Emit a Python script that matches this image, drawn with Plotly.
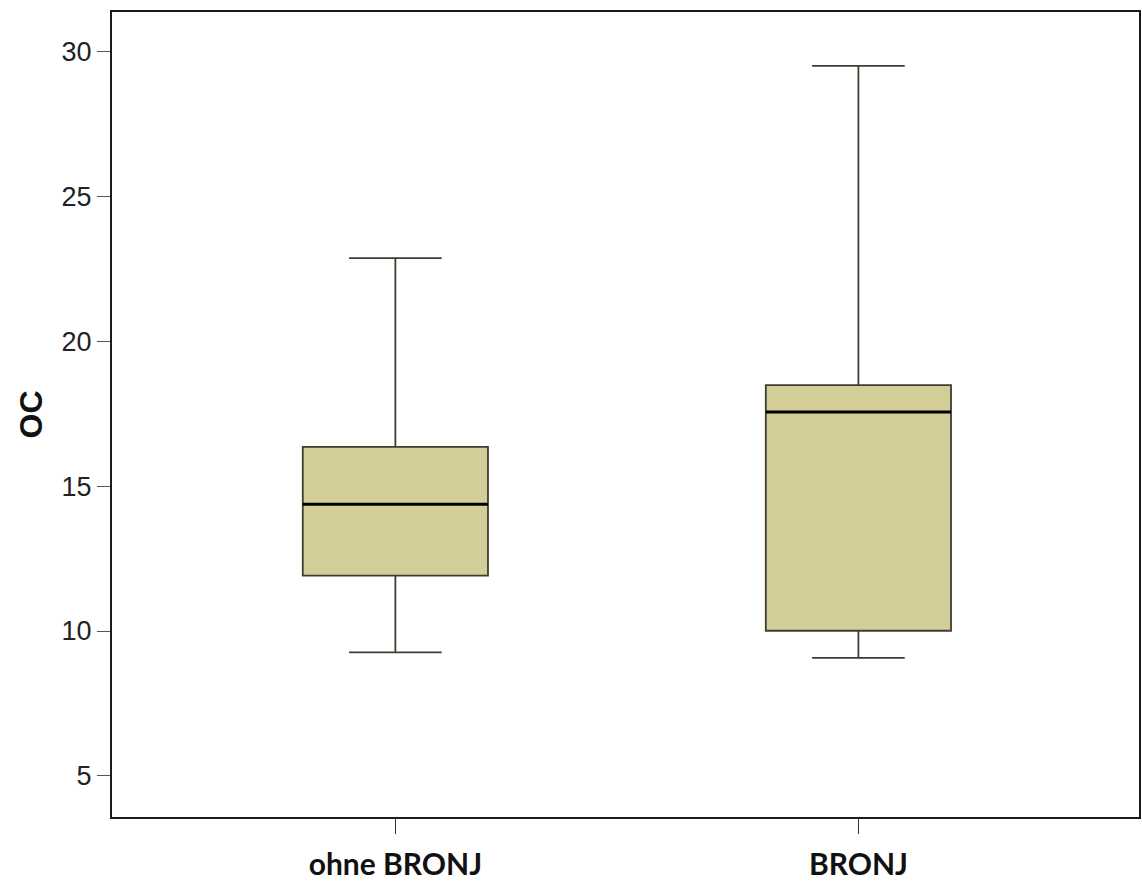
import plotly.graph_objects as go

# Osteocalcin (OC) summary statistics per group
groups = ["ohne BRONJ", "BRONJ"]
lower_whisker = [9.26, 9.07]
q1_values = [11.91, 10.01]
median_values = [14.38, 17.56]
q3_values = [16.36, 18.49]
upper_whisker = [22.87, 29.51]

y_ticks = [5, 10, 15, 20, 25, 30]

box_fill = "#D3CE98"
box_line = "#3f3c32"
box_width = 0.4

fig = go.Figure()
fig.add_trace(go.Box(
    x=groups,
    q1=q1_values,
    median=median_values,
    q3=q3_values,
    lowerfence=lower_whisker,
    upperfence=upper_whisker,
    width=box_width,
    whiskerwidth=0.5,
    fillcolor=box_fill,
    line=dict(color=box_line, width=1.8),
    boxpoints=False,
    showlegend=False,
    hoverinfo="skip",
))

# Heavier black median bars drawn over each box
for i, med in enumerate(median_values):
    fig.add_shape(
        type="line", xref="x", yref="y",
        x0=i - box_width / 2, x1=i + box_width / 2,
        y0=med, y1=med,
        line=dict(color="black", width=3),
    )

fig.update_layout(
    width=1142,
    height=882,
    margin=dict(l=112, r=1, t=12, b=65),
    paper_bgcolor="white",
    plot_bgcolor="white",
    font=dict(family="Liberation Sans, Arial, sans-serif", color="#222"),
)

fig.update_xaxes(
    type="category",
    range=[-0.612, 1.606],
    showline=True, mirror=True, linecolor="#1a1a1a", linewidth=2,
    ticks="outside", ticklen=15, tickwidth=1.2, tickcolor="#333",
    ticklabelstandoff=5,
    tickfont=dict(family="Lato, Open Sans, sans-serif", size=30, color="#111", weight="bold"),
    showgrid=False, zeroline=False,
)

fig.update_yaxes(
    range=[3.58, 31.37],
    tickvals=y_ticks,
    showline=True, mirror=True, linecolor="#1a1a1a", linewidth=2,
    ticks="outside", ticklen=13, tickwidth=1.2, tickcolor="#555",
    tickfont=dict(size=27, color="#222"),
    title=dict(text="<b>OC</b>", font=dict(size=32, color="#111"), standoff=9),
    showgrid=False, zeroline=False,
)

fig.write_html("out.html")
